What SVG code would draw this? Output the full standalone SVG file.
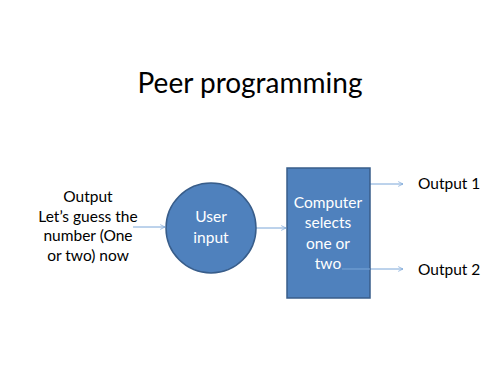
<svg xmlns="http://www.w3.org/2000/svg" width="500" height="375" viewBox="0 0 500 375">
<style>
text{font-family:Lato,"Open Sans","Liberation Sans",sans-serif;}
.lbl{font-size:15.5px;fill:#000;text-anchor:middle;}
.wt{font-size:15.5px;fill:#fff;text-anchor:middle;}
.out{font-size:15.5px;fill:#000;}
.shape{fill:#4f81bd;stroke:#385d8a;stroke-width:1.5;}
.conn{stroke:#7aa6d8;stroke-width:1;fill:none;}
</style>
<defs>
<marker id="arr" viewBox="0 0 10 10" refX="9" refY="5" markerWidth="6" markerHeight="6" orient="auto" markerUnits="userSpaceOnUse">
<path d="M1,1 L9,5 L1,9" fill="none" stroke="#7aa6d8" stroke-width="1.2"/>
</marker>
</defs>
<rect width="500" height="375" fill="#fff"/>
<text x="250" y="93" font-size="28" text-anchor="middle" fill="#000">Peer programming</text>
<g id="connectors">
<line class="conn" x1="133" y1="227" x2="165" y2="227" marker-end="url(#arr)"/>
<line class="conn" x1="256" y1="228" x2="286" y2="228" marker-end="url(#arr)"/>
<line class="conn" x1="370" y1="184" x2="403" y2="184" marker-end="url(#arr)"/>
<line class="conn" x1="342" y1="269" x2="403" y2="269" marker-end="url(#arr)"/>
</g>
<g id="input-text">
<text class="lbl" x="88" y="202">Output</text>
<text class="lbl" x="88" y="222">Let’s guess the</text>
<text class="lbl" x="88" y="241">number (One</text>
<text class="lbl" x="88" y="261">or two) now</text>
</g>
<g id="user-input">
<circle class="shape" cx="211" cy="228" r="45"/>
<text class="wt" x="211" y="222">User</text>
<text class="wt" x="211" y="243">input</text>
</g>
<g id="computer">
<rect class="shape" x="287" y="168" width="83" height="130"/>
<text class="wt" x="328" y="208">Computer</text>
<text class="wt" x="328" y="228">selects</text>
<text class="wt" x="328" y="249">one or</text>
<text class="wt" x="328" y="269">two</text>
<line class="conn" x1="342" y1="269" x2="370" y2="269"/>
</g>
<g id="output1"><text class="out" x="418" y="189">Output 1</text></g>
<g id="output2"><text class="out" x="418" y="275">Output 2</text></g>
</svg>
